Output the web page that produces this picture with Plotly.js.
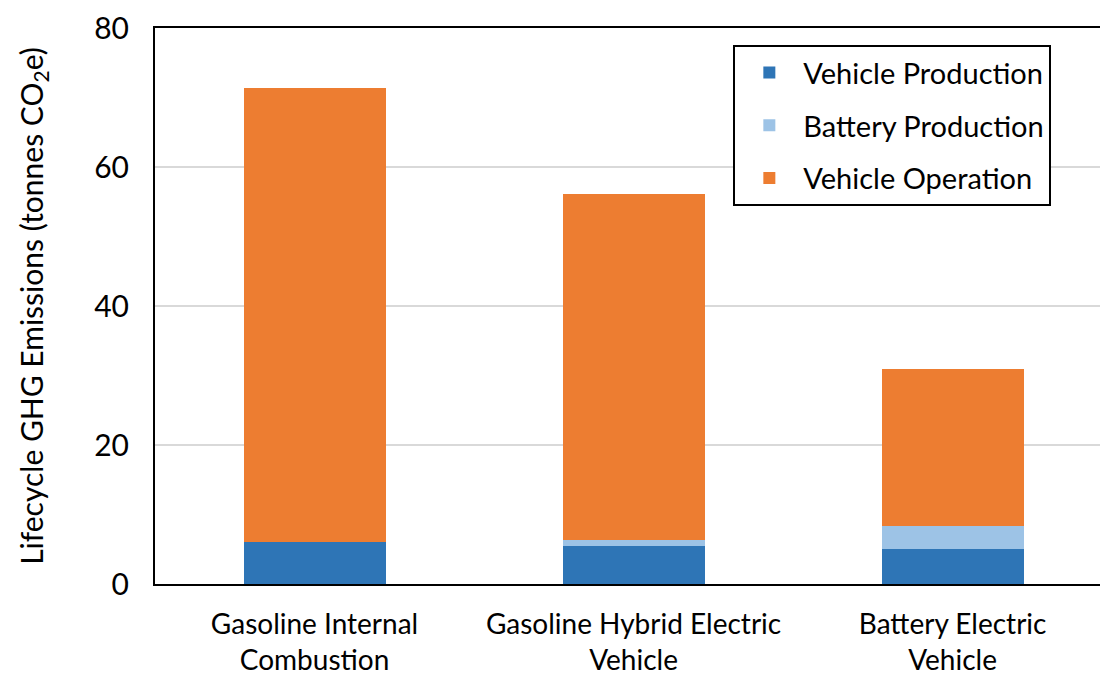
<!DOCTYPE html>
<html><head><meta charset="utf-8">
<script src="https://cdn.plot.ly/plotly-3.0.1.min.js"></script>
<style>html,body{margin:0;padding:0;background:#fff;}#chart{width:1101px;height:677px;}</style>
</head><body><div id="chart"></div>
<script>
const categories = ["Gasoline Internal<br>Combustion", "Gasoline Hybrid Electric<br>Vehicle", "Battery Electric<br>Vehicle"];
const vehicleProduction = [6.1, 5.5, 5.1];
const batteryProduction = [0, 0.8, 3.3];
const vehicleOperation = [65.3, 49.8, 22.5];
const seriesNames = ["Vehicle Production", "Battery Production", "Vehicle Operation"];
const yTicks = [0, 20, 40, 60, 80];

const FONT = "Lato, 'Open Sans', sans-serif";
const colors = ["#2E75B6", "#9DC3E6", "#ED7D31"];
const vals = [vehicleProduction, batteryProduction, vehicleOperation];
const traces = vals.map((v, i) => ({
  type: "bar", name: seriesNames[i], x: [0,1,2], y: v,
  marker: {color: colors[i], line: {width: 0}},
  legendgroup: "g" + i, hoverinfo: "y"
}));

const layout = {
  width: 1101, height: 677,
  margin: {l: 155, r: 1, t: 28, b: 93},
  barmode: "stack", bargap: 0.555,
  paper_bgcolor: "#fff", plot_bgcolor: "#fff",
  font: {family: FONT, color: "#000", size: 29},
  xaxis: {
    range: [-0.5, 2.462], tickvals: [0,1,2], ticktext: categories,
    showline: true, mirror: true, linecolor: "#000", linewidth: 2,
    showgrid: false, zeroline: false, ticks: "", ticklabelstandoff: 14,
    tickfont: {size: 28, family: FONT, color: "#000"}
  },
  yaxis: {
    range: [0, 80], tickvals: yTicks, ticktext: yTicks.map(String),
    showline: true, linecolor: "#000", linewidth: 2,
    showgrid: true, gridcolor: "#d9d9d9", gridwidth: 1.5, zeroline: false,
    ticks: "", ticklabelstandoff: 18,
    tickfont: {size: 30, family: FONT, color: "#000"},
    title: {text: "Lifecycle GHG Emissions (tonnes CO<sub>2</sub>e)", font: {size: 30, family: FONT, color: "#000"}, standoff: 42}
  },
  legend: {
    x: 0.612, y: 0.969, xanchor: "left", yanchor: "top",
    bordercolor: "#000", borderwidth: 2, bgcolor: "#fff",
    traceorder: "grouped", tracegroupgap: 12, itemwidth: 58,
    font: {size: 29, family: FONT, color: "#000"}
  },
  showlegend: true
};
Plotly.newPlot("chart", traces, layout, {displayModeBar: false, staticPlot: true});
</script></body></html>
